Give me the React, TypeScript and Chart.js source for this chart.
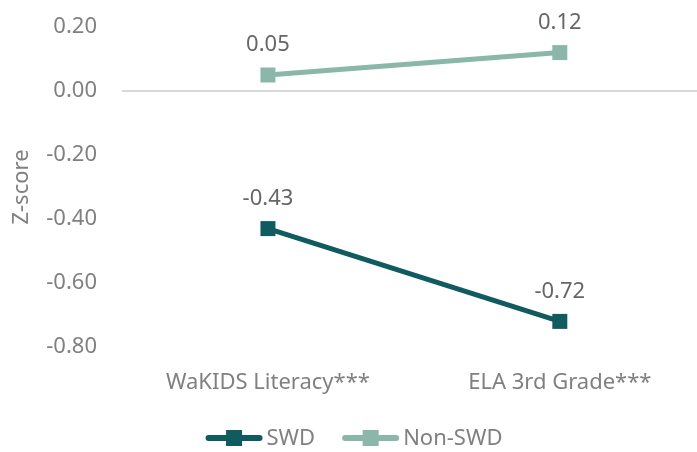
import React, { useEffect, useRef } from "react";
import { Chart, registerables } from "chart.js";

Chart.register(...registerables);

const categories = ["WaKIDS Literacy***", "ELA 3rd Grade***"];
const seriesNames = ["SWD", "Non-SWD"];
const swdValues = [-0.43, -0.72];
const nonSwdValues = [0.05, 0.12];
const seriesColors = ["#0f5b60", "#8ab7aa"];
const yTicks = [0.2, 0, -0.2, -0.4, -0.6, -0.8];

const FONT = "'Noto Sans', 'Open Sans', sans-serif";
const TICK_COLOR = "#808080";
const LABEL_COLOR = "#666666";

const dataLabelPlugin = {
  id: "dataLabels",
  afterDatasetsDraw(chart: any) {
    const ctx = chart.ctx;
    ctx.save();
    ctx.font = `22px ${FONT}`;
    ctx.fillStyle = LABEL_COLOR;
    ctx.textAlign = "center";
    ctx.textBaseline = "middle";
    chart.data.datasets.forEach((ds: any, di: number) => {
      const meta = chart.getDatasetMeta(di);
      meta.data.forEach((pt: any, i: number) => {
        const v = ds.data[i].y;
        ctx.fillText(v.toFixed(2), pt.x, pt.y - 30);
      });
    });
    ctx.restore();
  },
};

const legendPlugin = {
  id: "customLegend",
  afterDraw(chart: any) {
    const ctx = chart.ctx;
    ctx.save();
    ctx.font = `22px ${FONT}`;
    const lineLen = 57;
    const gap = 4;
    const itemGap = 27;
    const items = chart.data.datasets.map((ds: any) => ({
      label: ds.label,
      color: ds.borderColor,
      w: lineLen + gap + ctx.measureText(ds.label).width,
    }));
    const total = items.reduce((s: number, it: any) => s + it.w, 0) + itemGap * (items.length - 1);
    let x = 354 - total / 2;
    const y = 438;
    items.forEach((it: any) => {
      ctx.strokeStyle = it.color;
      ctx.lineWidth = 6;
      ctx.lineCap = "round";
      ctx.beginPath();
      ctx.moveTo(x + 3, y);
      ctx.lineTo(x + lineLen - 3, y);
      ctx.stroke();
      ctx.fillStyle = it.color;
      ctx.fillRect(x + lineLen / 2 - 8, y - 8, 16, 16);
      ctx.fillStyle = TICK_COLOR;
      ctx.textAlign = "left";
      ctx.textBaseline = "middle";
      ctx.fillText(it.label, x + lineLen + gap, y + 1);
      x += it.w + itemGap;
    });
    ctx.restore();
  },
};

export default function App() {
  const ref = useRef<HTMLCanvasElement>(null);
  useEffect(() => {
    if (!ref.current) return;
    const chart = new Chart(ref.current, {
      type: "line",
      data: {
        datasets: [
          {
            label: seriesNames[0],
            data: swdValues.map((v, i) => ({ x: i, y: v })),
            borderColor: seriesColors[0],
            backgroundColor: seriesColors[0],
            borderWidth: 5,
            pointStyle: "rect",
            pointRadius: 10.6,
            pointHoverRadius: 10.6,
            pointBorderWidth: 0,
          },
          {
            label: seriesNames[1],
            data: nonSwdValues.map((v, i) => ({ x: i, y: v })),
            borderColor: seriesColors[1],
            backgroundColor: seriesColors[1],
            borderWidth: 5,
            pointStyle: "rect",
            pointRadius: 10.6,
            pointHoverRadius: 10.6,
            pointBorderWidth: 0,
          },
        ],
      },
      options: {
        responsive: false,
        animation: false,
        layout: { autoPadding: false, padding: { top: 27, left: 0, right: 0, bottom: 0 } },
        plugins: { legend: { display: false }, tooltip: { enabled: false } },
        scales: {
          x: {
            type: "linear",
            min: -0.5,
            max: 1.47,
            afterBuildTicks: (scale: any) => {
              scale.ticks = categories.map((_, i) => ({ value: i }));
            },
            afterFit: (scale: any) => {
              scale.height = 105;
              scale.paddingLeft = 0;
              scale.paddingRight = 0;
            },
            ticks: {
              callback: (v: any) => categories[v] ?? "",
              font: { family: FONT, size: 22 },
              color: TICK_COLOR,
              padding: 23,
              maxRotation: 0,
            },
            grid: { display: false, drawTicks: false },
            border: { display: false },
          },
          y: {
            min: -0.8,
            max: 0.2,
            afterBuildTicks: (scale: any) => {
              scale.ticks = yTicks.map((v) => ({ value: v }));
            },
            afterFit: (scale: any) => {
              scale.width = 122;
              scale.paddingTop = 0;
              scale.paddingBottom = 0;
            },
            ticks: {
              callback: (v: any) => Number(v).toFixed(2),
              font: { family: FONT, size: 22 },
              color: TICK_COLOR,
              padding: 25,
            },
            grid: {
              drawTicks: false,
              lineWidth: 2,
              color: (c: any) => (Math.abs(c.tick?.value ?? 1) < 1e-9 ? "#d9d9d9" : "rgba(0,0,0,0)"),
            },
            border: { display: false },
            title: {
              display: true,
              text: "Z-score",
              font: { family: FONT, size: 22 },
              color: TICK_COLOR,
              padding: { top: 9, bottom: 0 },
            },
          },
        },
      },
      plugins: [dataLabelPlugin, legendPlugin],
    } as any);
    return () => chart.destroy();
  }, []);
  return (
    <div style={{ position: "fixed", left: 0, top: 0, width: 697, height: 452, background: "#fff" }}>
      <canvas ref={ref} width={697} height={452} />
    </div>
  );
}
